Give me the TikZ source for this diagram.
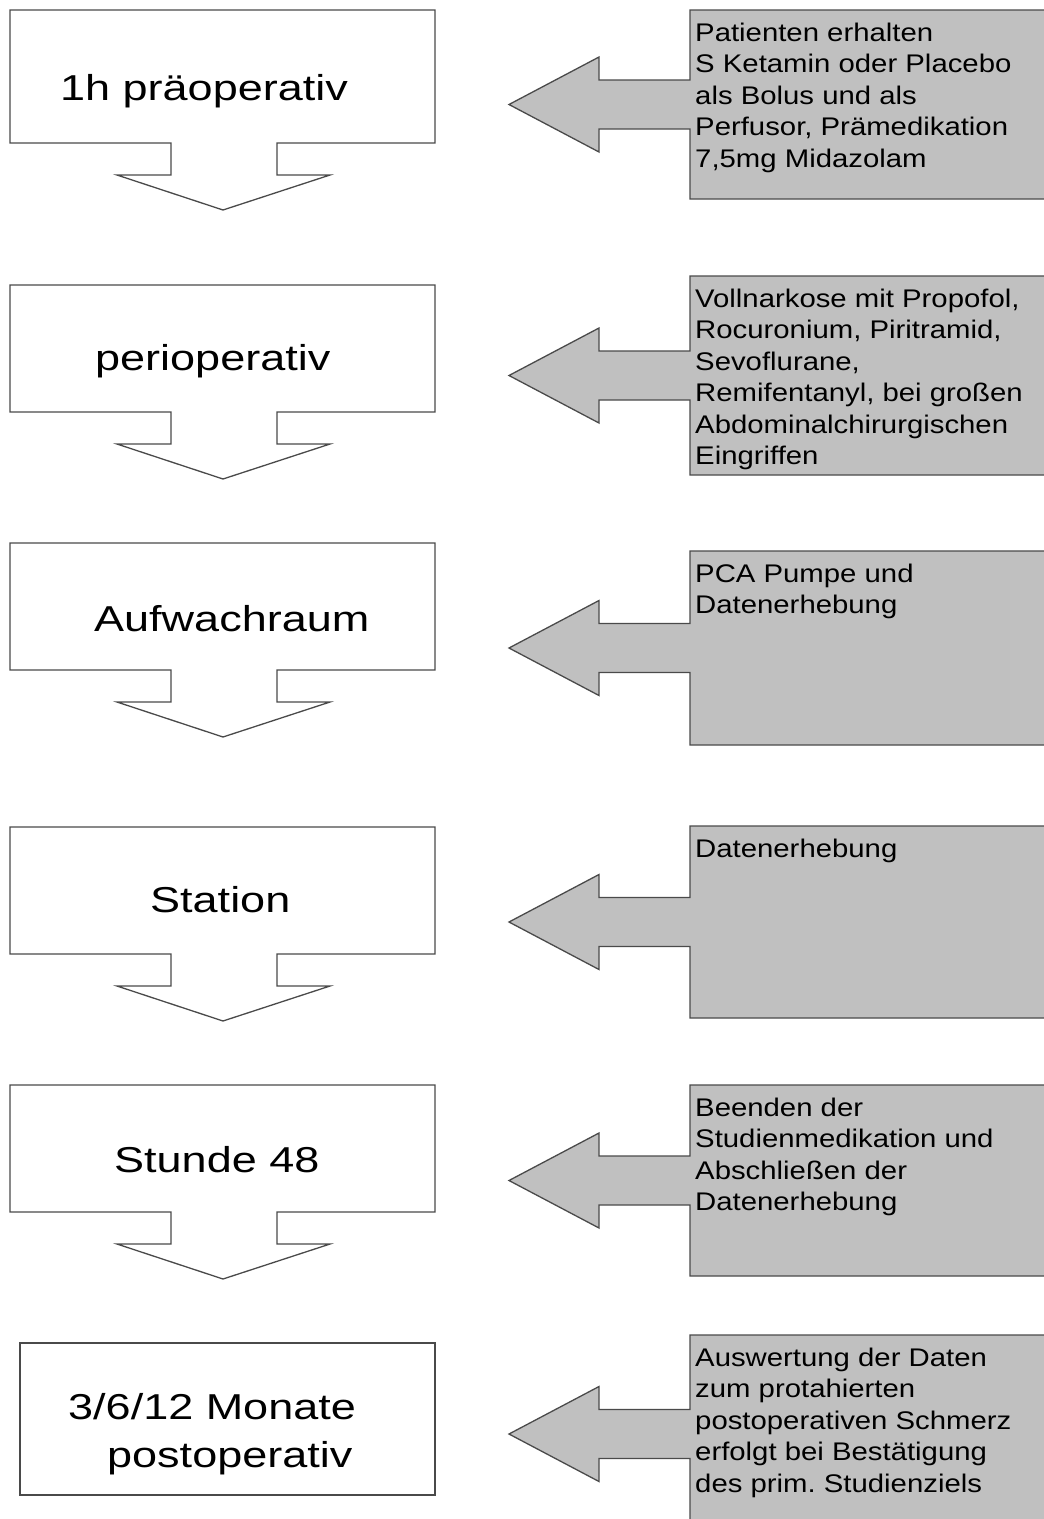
\documentclass[tikz,border=0pt]{standalone}
\usepackage{fontspec}
\newfontfamily\bigfont[FakeStretch=1.25]{Liberation Sans}
\newfontfamily\smallfont[FakeStretch=1.15]{Liberation Sans}
\definecolor{linegray}{HTML}{4A4A4A}
\definecolor{boxgray}{HTML}{C0C0C0}
\frenchspacing
\newcommand\LCall[2]{\draw[box] (10,#1) -- (435,#1) -- (435,#2) -- (277,#2) -- (277,{#2+32}) -- (330,{#2+32}) -- (223,{#2+67}) -- (117,{#2+32}) -- (171,{#2+32}) -- (171,#2) -- (10,#2) -- cycle;}
\newcommand\RCall[2]{\draw[gbox] (1060,#1) -- (690,#1) -- (690,{(#1+#2)/2-24.5}) -- (599,{(#1+#2)/2-24.5}) -- (599,{(#1+#2)/2-47.5}) -- (509,{(#1+#2)/2}) -- (599,{(#1+#2)/2+47.5}) -- (599,{(#1+#2)/2+24.5}) -- (690,{(#1+#2)/2+24.5}) -- (690,#2) -- (1060,#2) -- cycle;}
\begin{document}
\begin{tikzpicture}[x=1pt,y=-1pt,
  box/.style={draw=linegray, line width=1.3pt, fill=white, line join=miter},
  gbox/.style={box, fill=boxgray},
  lbl/.style={anchor=base west, inner sep=0pt, font={\bigfont\fontsize{36}{48}\selectfont}},
  note/.style={anchor=north west, inner sep=0pt, align=left, font={\smallfont\fontsize{25.5}{31.5}\selectfont}}]
\useasboundingbox (0,0) rectangle (1044,1519);
\clip (0,0) rectangle (1044,1519);
\fill[white] (0,0) rectangle (1044,1519);
% left column
\LCall{10}{143}
\LCall{285}{412}
\LCall{543}{670}
\LCall{827}{954}
\LCall{1085}{1212}
\draw[box] (20,1343) rectangle (435,1495);
\node[lbl] (l1) at (60,100) {1h präoperativ};
\node[lbl] (l2) at (95,370) {perioperativ};
\node[lbl] (l3) at (94,631) {Aufwachraum};
\node[lbl] (l4) at (150,912) {Station};
\node[lbl] (l5) at (114,1172) {Stunde 48};
\node[lbl] (l6a) at (68,1419) {3/6/12 Monate};
\node[lbl] (l6b) at (107,1467) {postoperativ};
% right column
\RCall{10}{199}
\RCall{276}{475}
\RCall{551}{745}
\RCall{826}{1018}
\RCall{1085}{1276}
\RCall{1335}{1533}
\node[note] (r1) at (695,19) {\rule{0pt}{22pt}Patienten erhalten\\S Ketamin oder Placebo\\als Bolus und als\\Perfusor, Prämedikation\\7,5mg Midazolam};
\node[note] (r2) at (695,285) {\rule{0pt}{22pt}Vollnarkose mit Propofol,\\Rocuronium, Piritramid,\\Sevoflurane,\\Remifentanyl, bei großen\\Abdominalchirurgischen\\Eingriffen};
\node[note] (r3) at (695,560) {\rule{0pt}{22pt}PCA Pumpe und\\Datenerhebung};
\node[note] (r4) at (695,835) {\rule{0pt}{22pt}Datenerhebung};
\node[note] (r5) at (695,1094) {\rule{0pt}{22pt}Beenden der\\Studienmedikation und\\Abschließen der\\Datenerhebung};
\node[note] (r6) at (695,1344) {\rule{0pt}{22pt}Auswertung der Daten\\zum protahierten\\postoperativen Schmerz\\erfolgt bei Bestätigung\\des prim.\ Studienziels};
\end{tikzpicture}
\end{document}
